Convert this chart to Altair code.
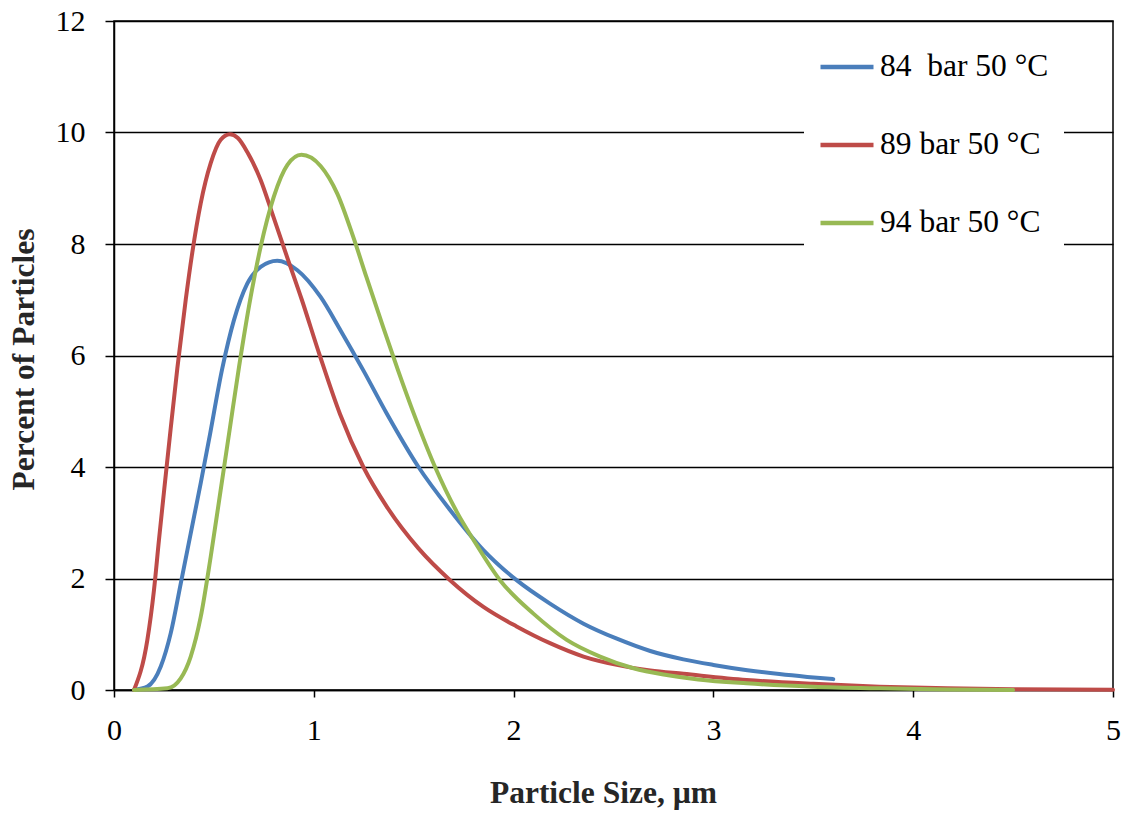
import altair as alt
import pandas as pd

# Particle size distributions (size in µm, percent of particles)
size_84 = [0.10, 0.167, 0.234, 0.284, 0.334, 0.384, 0.434, 0.475, 0.542, 0.60, 0.667, 0.734,
           0.817, 0.918, 1.034, 1.134, 1.25, 1.365, 1.524, 1.682, 1.849, 2.015, 2.182,
           2.35, 2.517, 2.684, 2.85, 3.00, 3.17, 3.33, 3.47, 3.60]
pct_84 = [0.0, 0.06, 0.42, 1.02, 1.91, 2.81, 3.71, 4.48, 5.77, 6.63, 7.29, 7.59,
          7.70, 7.53, 7.05, 6.45, 5.72, 4.96, 4.00, 3.23, 2.51, 1.97, 1.55,
          1.19, 0.92, 0.70, 0.55, 0.45, 0.355, 0.285, 0.235, 0.195]

size_89 = [0.10, 0.167, 0.20, 0.225, 0.25, 0.284, 0.317, 0.359, 0.392, 0.434, 0.484, 0.534,
           0.58, 0.62, 0.667, 0.734, 0.792, 0.866, 0.94, 1.03, 1.131, 1.248, 1.365, 1.524, 1.682,
           1.849, 2.015, 2.182, 2.35, 2.517, 2.684, 2.85, 3.166, 3.50, 3.83, 4.17, 4.50, 5.00]
pct_89 = [0.0, 0.90, 1.79, 2.69, 3.55, 4.70, 5.77, 7.00, 7.85, 8.73, 9.45, 9.87,
          9.97, 9.90, 9.65, 9.15, 8.55, 7.77, 7.00, 6.00, 4.95, 4.00, 3.29, 2.54, 1.97,
          1.49, 1.14, 0.84, 0.60, 0.45, 0.35, 0.29, 0.18, 0.11, 0.06, 0.03, 0.015, 0.005]

size_94 = [0.10, 0.267, 0.334, 0.384, 0.434, 0.484, 0.534, 0.576, 0.626, 0.684, 0.734, 0.80,
           0.868, 0.938, 1.034, 1.118, 1.20, 1.264, 1.348, 1.423, 1.498, 1.607, 1.715, 1.798,
           1.932, 2.099, 2.266, 2.433, 2.60, 2.766, 2.924, 3.166, 3.50, 3.83, 4.17, 4.50]
pct_94 = [0.0, 0.03, 0.21, 0.60, 1.31, 2.39, 3.59, 4.60, 5.80, 7.05, 7.95, 8.85,
          9.42, 9.60, 9.40, 8.90, 8.10, 7.40, 6.50, 5.72, 4.98, 4.00, 3.20, 2.70,
          1.97, 1.37, 0.90, 0.60, 0.39, 0.27, 0.19, 0.12, 0.06, 0.03, 0.01, 0.0]

series_names = ["84\u00a0 bar 50 °C", "89 bar 50 °C", "94 bar 50 °C"]
series_colors = ["#4A7EBB", "#BE4B48", "#98B954"]

x_ticks = [0, 1, 2, 3, 4, 5]
y_ticks = [0, 2, 4, 6, 8, 10, 12]

rows = []
for name, xs, ys in zip(series_names, [size_84, size_89, size_94], [pct_84, pct_89, pct_94]):
    for i, (x, y) in enumerate(zip(xs, ys)):
        rows.append({"size": x, "pct": y, "series": name, "order": i})
df = pd.DataFrame(rows)

FONT = "Liberation Serif"

chart = (
    alt.Chart(df)
    .mark_line(strokeWidth=4, interpolate="monotone", strokeCap="round")
    .encode(
        x=alt.X(
            "size:Q",
            scale=alt.Scale(domain=[0, 5], nice=False),
            axis=alt.Axis(
                values=x_ticks,
                title="Particle Size, µm",
                grid=False,
                tickSize=7,
                labelPadding=42,
                labelBaseline="alphabetic",
                labelFlush=False,
                titleX=489,
                titleY=112,
                titleAlign="center",
                titleBaseline="alphabetic",
            ),
        ),
        y=alt.Y(
            "pct:Q",
            scale=alt.Scale(domain=[0, 12], nice=False),
            axis=alt.Axis(
                values=y_ticks,
                title="Percent of Particles",
                grid=True,
                tickSize=9,
                labelPadding=20,
                labelFlush=False,
                titleAngle=-90,
                titleX=-81,
                titleY=338,
                titleBaseline="alphabetic",
                titleAlign="center",
            ),
        ),
        color=alt.Color(
            "series:N",
            scale=alt.Scale(domain=series_names, range=series_colors),
            legend=alt.Legend(
                title=None,
                orient="none",
                legendX=690,
                legendY=3,
                padding=14,
                fillColor="white",
                strokeColor="white",
                symbolType="stroke",
                symbolSize=2809,
                symbolStrokeWidth=4.5,
                labelOffset=4,
                labelFont=FONT,
                labelFontSize=31.5,
                labelColor="black",
                rowPadding=33,
                labelLimit=400,
            ),
        ),
        order="order:Q",
    )
    .properties(
        width=999,
        height=669,
        background="white",
        autosize=alt.AutoSizeParams(type="none"),
        padding={"left": 114, "top": 21, "right": 12, "bottom": 123},
    )
    .configure_view(stroke="black", strokeWidth=1.5)
    .configure_axis(
        domainColor="black",
        domainWidth=1.5,
        tickColor="black",
        tickWidth=1.5,
        gridColor="black",
        gridWidth=1.5,
        gridOpacity=1,
        labelFont=FONT,
        labelFontSize=30,
        labelColor="black",
        titleFont=FONT,
        titleFontSize=31.5,
        titleFontWeight="bold",
        titleColor="#262626",
    )
)

chart.save("out.html", embed_options={"renderer": "svg", "actions": False})
